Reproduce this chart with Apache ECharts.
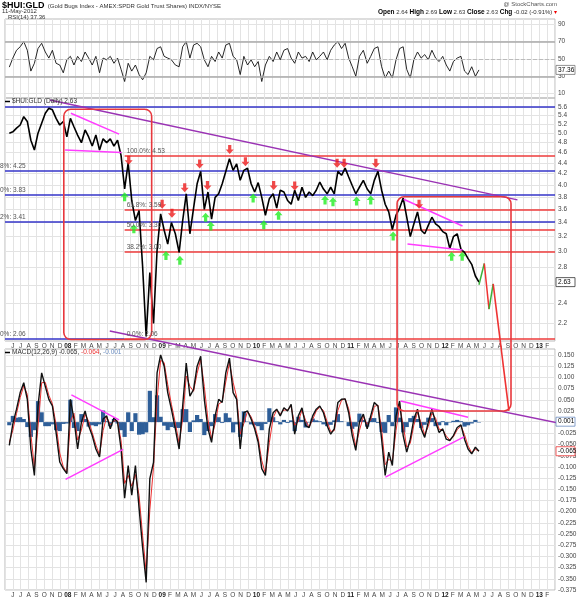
<!DOCTYPE html>
<html><head><meta charset="utf-8">
<script src="https://cdn.jsdelivr.net/npm/echarts@6/dist/echarts.min.js"></script>
<style>html,body{margin:0;padding:0;background:#fff}#c{width:580px;height:600px}</style>
</head><body><div id="c"></div>
<script>
// ---------- data (biweekly samples from 2007-05-18 to 2012-05-11) ----------
const startDate = '2007-05-18';
const stepDays = 14;
const price = [
5.00,5.03,5.11,5.18,5.37,5.26,4.85,4.65,5.00,5.22,
5.45,5.57,5.53,5.33,5.18,5.26,4.92,5.33,5.14,4.96,
4.80,5.07,4.92,4.73,4.96,4.65,4.88,4.80,4.88,4.73,
4.85,4.54,3.93,4.40,3.74,3.43,3.58,2.81,2.08,2.74,
2.20,3.02,3.53,3.29,3.10,3.40,3.24,2.99,3.43,3.85,
3.24,3.62,4.02,4.24,3.60,3.88,3.45,3.79,3.85,4.02,
4.24,4.48,4.26,4.38,4.08,4.26,4.30,4.02,3.88,4.04,
3.79,3.51,3.77,3.85,3.62,3.91,3.88,3.74,3.68,3.91,
3.74,3.96,3.79,3.88,3.82,3.91,4.05,3.93,3.85,3.96,
3.85,4.24,4.17,4.30,4.14,3.99,3.85,3.96,4.08,3.93,
3.85,4.08,4.24,3.91,3.68,3.56,3.30,3.51,3.62,3.78,
3.48,3.20,3.38,3.56,3.29,3.24,3.36,3.48,3.38,3.34,
3.27,3.24,3.04,3.20,3.24,3.03,2.99,2.91,2.84,2.70,
2.63];
const rsi = [
40.6,51,60,64,70,60,36,45,62,68,
58,51,60,45,43,34,49,53,43,53,
47,58,51,43,53,34,51,49,53,45,
51,38,24,45,36,43,32,26,34,53,
49,62,64,53,51,49,43,41,64,70,
51,66,68,64,49,41,53,47,58,51,
66,68,53,49,32,53,43,49,41,47,
24,43,53,47,58,49,60,62,51,45,
58,51,53,47,58,49,53,58,49,60,
66,70,62,68,51,41,30,53,60,45,
53,62,64,41,28,36,28,49,62,64,
38,28,49,58,51,55,49,60,51,47,
53,43,36,47,51,53,36,32,41,30,
37.36];
const macd = [
-0.052,-0.004,0.029,0.066,0.088,0.051,-0.060,-0.119,0.036,0.110,
0.080,0.051,0.036,-0.023,-0.089,-0.104,-0.115,0.051,0.007,-0.060,
0.000,0.025,-0.008,-0.030,-0.060,-0.078,0.007,0.014,-0.015,0.010,
0.000,-0.060,-0.170,-0.097,-0.163,-0.097,-0.192,-0.281,-0.358,-0.126,
-0.090,0.110,0.150,0.125,0.066,0.029,-0.015,-0.060,0.036,0.132,
0.058,0.073,0.125,0.147,0.051,-0.015,-0.045,0.014,0.051,0.044,
0.110,0.143,0.066,0.051,-0.060,0.021,0.025,0.007,-0.015,-0.045,
-0.104,-0.119,-0.015,0.021,0.029,0.014,0.032,0.025,0.040,-0.027,
0.014,0.032,-0.008,-0.012,0.014,0.029,0.036,0.021,-0.008,-0.027,
-0.015,0.044,0.051,0.052,0.021,-0.030,-0.063,0.000,0.018,-0.015,
0.014,0.044,0.036,-0.038,-0.119,-0.067,-0.097,0.014,0.047,-0.030,
-0.067,-0.038,0.007,0.029,-0.015,-0.034,0.000,0.029,0.000,-0.023,
-0.015,-0.038,-0.041,-0.030,-0.012,-0.006,-0.038,-0.060,-0.071,-0.056,
-0.065];
const signal = [
-0.045,-0.018,0.019,0.055,0.081,0.062,-0.027,-0.101,-0.011,0.088,
0.089,0.060,0.041,-0.005,-0.069,-0.100,-0.112,0.001,0.020,-0.040,
-0.018,0.018,0.002,-0.023,-0.051,-0.073,-0.019,0.012,-0.006,0.003,
0.003,-0.042,-0.137,-0.119,-0.143,-0.117,-0.164,-0.254,-0.335,-0.196,
-0.101,0.050,0.138,0.133,0.084,0.040,-0.002,-0.047,0.007,0.103,
0.080,0.069,0.109,0.140,0.080,0.005,-0.036,-0.004,0.040,0.046,
0.090,0.133,0.089,0.056,-0.027,-0.003,0.024,0.012,-0.008,-0.036,
-0.086,-0.115,-0.046,0.010,0.027,0.019,0.027,0.027,0.036,-0.007,
0.002,0.027,0.004,-0.011,0.006,0.025,0.034,0.026,0.001,-0.021,
-0.019,0.026,0.049,0.052,0.030,-0.015,-0.053,-0.019,0.013,-0.005,
0.005,0.035,0.038,-0.016,-0.095,-0.083,-0.088,-0.019,0.037,-0.007,
-0.056,-0.047,-0.007,0.022,-0.002,-0.028,-0.010,0.020,0.009,-0.016,
-0.017,-0.031,-0.040,-0.033,-0.017,-0.008,-0.028,-0.053,-0.068,-0.061,
-0.064];
const hist = [
-0.007,0.014,0.010,0.011,0.007,-0.011,-0.033,-0.018,0.047,0.022,
-0.009,-0.009,-0.005,-0.018,-0.020,-0.004,-0.003,0.050,-0.013,-0.020,
0.018,0.007,-0.010,-0.007,-0.009,-0.005,0.026,0.002,-0.009,0.007,
-0.003,-0.018,-0.033,0.022,-0.020,0.020,-0.028,-0.027,-0.023,0.070,
0.011,0.060,0.012,-0.008,-0.018,-0.011,-0.013,-0.013,0.029,0.029,
-0.022,0.004,0.016,0.007,-0.029,-0.020,-0.009,0.018,0.011,-0.002,
0.020,0.010,-0.023,-0.005,-0.033,0.024,0.001,-0.005,-0.007,-0.009,
-0.018,-0.004,0.031,0.011,0.002,-0.005,0.005,-0.002,0.004,-0.020,
0.012,0.005,-0.012,-0.001,0.008,0.004,0.002,-0.005,-0.009,-0.006,
0.004,0.018,0.002,0.000,-0.009,-0.015,-0.010,0.019,0.005,-0.010,
0.009,0.009,-0.002,-0.022,-0.024,0.016,-0.009,0.033,0.010,-0.023,
-0.011,0.009,0.014,0.007,-0.013,-0.006,0.010,0.009,-0.009,-0.007,
0.002,-0.007,-0.001,0.003,0.005,0.002,-0.010,-0.007,-0.003,0.005,
-0.001];

// axis ticks
const monthLetters = ['J','F','M','A','M','J','J','A','S','O','N','D'];
const priceTicks = [2.2,2.4,2.6,2.8,3.0,3.2,3.4,3.6,3.8,4.0,4.2,4.4,4.6,4.8,5.0,5.2,5.4,5.6];
const rsiTicks = [10,30,50,70,90];
const macdTicks = [-0.375,-0.35,-0.325,-0.3,-0.275,-0.25,-0.225,-0.2,-0.175,-0.15,-0.125,-0.1,-0.075,-0.05,-0.025,0.001,0.025,0.05,0.075,0.1,0.125,0.15];

// annotations (date, value)
const redArrowDates = ['2008-08-24','2009-01-01','2009-02-08','2009-03-28','2009-05-25','2009-06-24','2009-09-19','2009-11-19','2010-03-07','2010-05-28','2010-11-09','2010-12-06','2011-04-07','2011-09-22'];
const redArrowPrices = [4.45,3.68,3.54,3.95,4.38,3.99,4.66,4.42,3.99,3.98,4.39,4.39,4.39,3.68];
const greenArrowDates = ['2008-08-08','2008-09-13','2009-01-16','2009-03-09','2009-06-17','2009-07-07','2009-12-19','2010-01-30','2010-03-26','2010-09-23','2010-10-24','2011-01-24','2011-03-18','2011-06-13','2012-01-27','2012-03-07'];
const greenArrowPrices = [3.80,3.31,2.95,2.89,3.48,3.35,3.78,3.37,3.51,3.75,3.72,3.73,3.75,3.21,2.94,2.94];
const blueFibLevels = [5.60,4.25,3.83,3.41];
const blueFibLabels = ['0%: 5.60','8%: 4.25','0%: 3.83','2%: 3.41'];
const redFibLevels = [4.53,3.59,3.30,3.00,2.06];
const redFibLabels = ['100.0%: 4.53','61.8%: 3.59','50.0%: 3.30','38.2%: 3.00','0.0%: 2.06'];
const fibSplitDate = '2008-08-08';
const priceTrend = [['2007-10-23',5.77],['2012-10-08',3.75]];
const priceTri = [[['2008-01-13',5.45],['2008-07-17',4.98]],[['2007-12-21',4.65],['2008-07-27',4.60]],
                  [['2011-07-24',3.76],['2012-03-08',3.35]],[['2011-08-08',3.10],['2012-03-08',3.02]]];
const macdTrend = [['2008-06-11',0.2035],['2013-06-06',-0.0116]];
const macdTri = [[['2008-01-15',0.061],['2008-07-17',0.005]],[['2007-12-23',-0.128],['2008-08-02',-0.061]],
                 [['2011-07-12',0.047],['2012-03-30',0.011]],[['2011-05-14',-0.123],['2012-03-14',-0.033]]];
const projection = [['2012-05-11',2.60],['2012-06-01',2.85],['2012-06-19',2.34],['2012-07-05',2.61]];
const projectionEnd = ['2012-09-05',0.025];   // in MACD panel
const box1 = {from:'2007-12-16', to:'2008-11-21', top:5.545, bottom:2.053};
const box2 = {from:'2011-06-28', to:'2012-09-13', top:3.80, bottomMacd:0.025};

// ---------- helpers ----------
const L = Math.log;
function mIdx(s){const [y,mo,d]=s.split('-').map(Number);const dim=new Date(Date.UTC(y,mo,0)).getUTCDate();return (y-2008)*12+(mo-1)+(d-1)/dim;}
const t0 = Date.parse(startDate+'T00:00:00Z');
const xs = price.map((_,i)=>mIdx(new Date(t0+i*stepDays*864e5).toISOString().slice(0,10)));
const FONT = 'Liberation Sans, Arial, sans-serif';
const GRID_COL = '#e3e3e3';

function xAx(g, show){
  return {type:'value', gridIndex:g, min:-8, max:62, interval:1,
    axisLine:{show:false}, axisTick:{show:false},
    axisLabel:{show:show, margin:2, fontSize:6.5, color:'#444', fontFamily:FONT, showMinLabel:false, showMaxLabel:false,
      formatter:v=>{v=Math.round(v);const k=((v%12)+12)%12;return k===0?'{y|'+String(2008+Math.floor(v/12)).slice(-2)+'}':monthLetters[k];},
      rich:{y:{fontWeight:'bold',fontSize:6.5,color:'#222',fontFamily:FONT}}},
    splitLine:{show:true, lineStyle:{color:GRID_COL,width:1}}};
}
function yAx(g, min, max, ticks, fmt){
  return {type:'value', gridIndex:g, position:'right', min:min, max:max, scale:true,
    axisLine:{show:false}, axisTick:{show:false, customValues:ticks},
    axisLabel:{customValues:ticks, formatter:fmt, fontSize:6.5, color:'#444', fontFamily:FONT, margin:3},
    splitLine:{show:true, lineStyle:{color:GRID_COL,width:1}}};
}
const pair = (d,v,f)=>[mIdx(d), f? f(v): v];
function seg(name, pts, g, color, w, f, clip){
  return {type:'line', name, xAxisIndex:g, yAxisIndex:g, data:pts.map(p=>pair(p[0],p[1],f)), symbol:'none',
    lineStyle:{color, width:w}, clip: clip!==false, z:5, silent:true, animation:false};
}

const series = [];
// RSI
series.push({type:'line', xAxisIndex:0, yAxisIndex:0, data:rsi.map((v,i)=>[xs[i],v]), symbol:'none',
  lineStyle:{color:'#111',width:0.9},
  markLine:{symbol:'none', silent:true, label:{show:false},
    data:[{yAxis:70,lineStyle:{color:'#aaa',width:1.5,type:'solid'}},{yAxis:30,lineStyle:{color:'#aaa',width:1.5,type:'solid'}},{yAxis:50,lineStyle:{color:'#bbb',width:1,type:'dashed'}}]}});
// Price
const fibLines = [];
blueFibLevels.forEach(v=>fibLines.push([{coord:[-8,L(v)],lineStyle:{color:'#3434c8',width:1.5,type:'solid'}},{coord:[62,L(v)]}]));
fibLines.push([{coord:[-8,L(2.06)],lineStyle:{color:'#3434c8',width:1.5,type:'solid'}},{coord:[mIdx(fibSplitDate),L(2.06)]}]);
redFibLevels.forEach(v=>fibLines.push([{coord:[mIdx(fibSplitDate),L(v)],lineStyle:{color:'#ee3b3b',width:1.5,type:'solid'}},{coord:[62,L(v)]}]));
series.push({type:'line', xAxisIndex:1, yAxisIndex:1, data:price.map((v,i)=>[xs[i],L(v)]), symbol:'none',
  lineStyle:{color:'#000',width:1.6}, z:4,
  markLine:{symbol:'none', silent:true, label:{show:false}, z:3, data:fibLines}});
series.push(seg('trend',priceTrend,1,'#9a32b4',1.5,L));
priceTri.forEach(t=>series.push(seg('tri',t,1,'#ff3cff',1.5,L)));
const projCols = ['#3bb13b','#ee3333','#3bb13b'];
for(let k=0;k<projection.length-1;k++) series.push(seg('proj',[projection[k],projection[k+1]],1,projCols[k],1.5,L));
series.push({type:'scatter', xAxisIndex:1, yAxisIndex:1, data:redArrowDates.map((d,i)=>pair(d,redArrowPrices[i],L)),
  symbol:'path://M3,0L7,0L7,5L10,5L5,10L0,5L3,5Z', symbolSize:[8,9], itemStyle:{color:'#ee1c1c'}, z:6, silent:true});
series.push({type:'scatter', xAxisIndex:1, yAxisIndex:1, data:greenArrowDates.map((d,i)=>pair(d,greenArrowPrices[i],L)),
  symbol:'path://M5,0L10,5L7,5L7,10L3,10L3,5L0,5Z', symbolSize:[8,9], itemStyle:{color:'#22ee22'}, z:6, silent:true});
// MACD
series.push({type:'bar', xAxisIndex:2, yAxisIndex:2, data:hist.map((v,i)=>[xs[i],v]), barWidth:4.2, barGap:'-100%',
  itemStyle:{color:'#2e5e98'}, z:2, silent:true});
series.push({type:'line', xAxisIndex:2, yAxisIndex:2, data:signal.map((v,i)=>[xs[i],v]), symbol:'none',
  lineStyle:{color:'#ee3030',width:1}, z:3});
series.push({type:'line', xAxisIndex:2, yAxisIndex:2, data:macd.map((v,i)=>[xs[i],v]), symbol:'none',
  lineStyle:{color:'#111',width:1.4}, z:4});
macdTri.forEach(t=>series.push(seg('mtri',t,2,'#ff3cff',1.5)));
series.push(seg('mtrend',macdTrend,2,'#9a32b4',1.5,null,false));

const option = {
  animation:false, backgroundColor:'#fff',
  grid:[
    {left:5, right:25, top:19, height:79, show:true, borderColor:'#bbb', borderWidth:1},
    {left:5, right:25, top:98, height:243, show:true, borderColor:'#bbb', borderWidth:1},
    {left:5, right:25, top:349, height:241, show:true, borderColor:'#bbb', borderWidth:1}],
  xAxis:[xAx(0,false), xAx(1,true), xAx(2,true)],
  yAxis:[
    yAx(0,5,96,rsiTicks,v=>String(Math.round(v))),
    yAx(1,L(2.04),L(5.82),priceTicks.map(L),v=>Math.exp(v).toFixed(1)),
    yAx(2,-0.375,0.1634,macdTicks,v=>v.toFixed(3))],
  series
};
const chart = echarts.init(document.getElementById('c'), null, {renderer:'canvas'});
chart.setOption(option);

// ---------- annotation graphics (positions via the chart's own coordinate conversion) ----------
const px = (g, d, v) => chart.convertToPixel({gridIndex:g}, [typeof d==='string'?mIdx(d):d, v]);
const g = [];
const txt = (x,y,text,opt)=>g.push(Object.assign({type:'text', x, y, silent:true, z:20, style:Object.assign({text, fontSize:6.5, fill:'#555', fontFamily:FONT}, opt||{})}));
// boxes
{
  const a = px(1, box1.from, L(box1.top)), b = px(1, box1.to, L(box1.bottom));
  g.push({type:'rect', z:15, silent:true, shape:{x:a[0], y:a[1], width:b[0]-a[0], height:b[1]-a[1], r:7}, style:{fill:'none', stroke:'#e8383d', lineWidth:1.6}});
  const c = px(1, box2.from, L(box2.top)), e = px(2, box2.to, box2.bottomMacd);
  g.push({type:'rect', z:15, silent:true, shape:{x:c[0], y:c[1], width:e[0]-c[0], height:e[1]-c[1], r:7}, style:{fill:'none', stroke:'#e8383d', lineWidth:1.6}});
  const p = projection[projection.length-1];
  const s = px(1, p[0], L(p[1])), t = px(2, projectionEnd[0], projectionEnd[1]);
  g.push({type:'line', z:16, silent:true, shape:{x1:s[0], y1:s[1], x2:t[0], y2:t[1]}, style:{stroke:'#ee3333', lineWidth:1.6}});
}
// fib labels
blueFibLevels.forEach((v,i)=>{ if(i===0) return; const p = px(1, -8, L(v)); txt(0, p[1]-8, blueFibLabels[i]); });
txt(0, px(1,-8,L(2.06))[1]-8, '0%: 2.06');
redFibLevels.forEach((v,i)=>{ const p = px(1, fibSplitDate, L(v)); txt(p[0]+2, p[1]-8, redFibLabels[i]); });
// header
g.push({type:'text', left:2, top:0, silent:true, style:{text:'{a|$HUI:GLD} {b|(Gold Bugs Index - AMEX:SPDR Gold Trust Shares) INDX/NYSE}', fontFamily:FONT,
  rich:{a:{fontSize:9, fontWeight:'bold', fill:'#000', fontFamily:FONT}, b:{fontSize:6, fill:'#333', fontFamily:FONT}}}});
g.push({type:'text', left:2, top:8.5, silent:true, style:{text:'11-May-2012', fontSize:6, fill:'#333', fontFamily:FONT}});
g.push({type:'text', right:23, top:1, silent:true, style:{text:'@ StockCharts.com', fontSize:6, fill:'#555', fontFamily:FONT}});
g.push({type:'text', right:23, top:8.5, silent:true, style:{text:'{k|Open} 2.64 {k|High} 2.69 {k|Low} 2.63 {k|Close} 2.63 {k|Chg} -0.02 (-0.91%) {r|▾}', fontSize:6, fill:'#333', fontFamily:FONT,
  rich:{k:{fontWeight:'bold', fontSize:6.5, fill:'#000', fontFamily:FONT}, r:{fill:'#e00', fontSize:6}}}});
// panel labels
g.push({type:'text', left:8, top:14, silent:true, z:20, style:{text:'RSI(14) 37.36', fontSize:6, fill:'#333', fontFamily:FONT}});
g.push({type:'line', silent:true, z:20, shape:{x1:5, y1:101.5, x2:10, y2:101.5}, style:{stroke:'#000', lineWidth:1.5}});
g.push({type:'text', left:12, top:98, silent:true, z:20, style:{text:'$HUI:GLD (Daily) 2.63', fontSize:6.5, fill:'#333', fontFamily:FONT}});
g.push({type:'line', silent:true, z:20, shape:{x1:5, y1:352.5, x2:10, y2:352.5}, style:{stroke:'#000', lineWidth:1.5}});
g.push({type:'text', left:12, top:349, silent:true, z:20, style:{text:'MACD(12,26,9) -0.065, {r|-0.064}, {b|-0.001}', fontSize:6.5, fill:'#333', fontFamily:FONT,
  rich:{r:{fill:'#e33', fontSize:6.5, fontFamily:FONT}, b:{fill:'#6a8cbf', fontSize:6.5, fontFamily:FONT}}}});
// last value tags on the right axes
function tag(gi, v, text, border){
  const p = px(gi, 62, v);
  g.push({type:'rect', silent:true, z:25, shape:{x:p[0]+1, y:p[1]-4.5, width:19, height:9}, style:{fill:'#fff', stroke:border, lineWidth:0.8}});
  g.push({type:'text', silent:true, z:26, x:p[0]+3, y:p[1]-3.5, style:{text, fontSize:6.5, fill:'#000', fontFamily:FONT}});
}
tag(0, 37.36, '37.36', '#777');
tag(1, L(2.63), '2.63', '#333');
tag(2, 0.001, '0.001', '#6a8cbf');
tag(2, -0.065, '-0.065', '#e33');
chart.setOption({graphic:g});
</script></body></html>
